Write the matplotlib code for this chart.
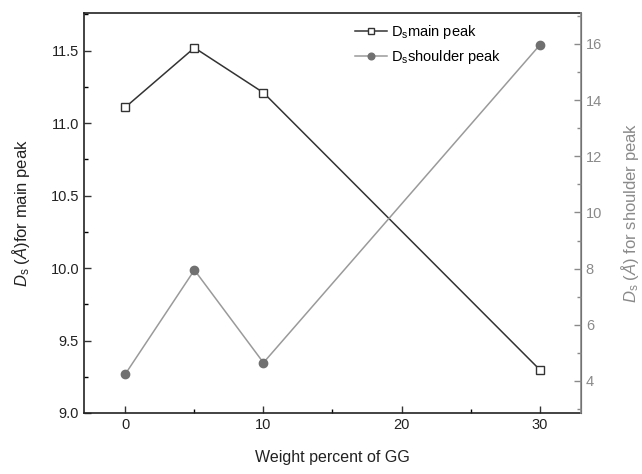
import matplotlib
matplotlib.use("Agg")
import matplotlib.pyplot as plt
from matplotlib.ticker import MultipleLocator

plt.rcParams['font.family'] = ['Liberation Sans', 'DejaVu Sans']
plt.rcParams['mathtext.fontset'] = 'custom'
plt.rcParams['mathtext.rm'] = 'Liberation Sans'
plt.rcParams['mathtext.it'] = 'Liberation Sans:italic'

weight = [0, 5, 10, 30]
main_peak = [11.11, 11.52, 11.21, 9.30]
shoulder_peak = [4.25, 7.95, 4.65, 15.95]
x_ticks = [0, 10, 20, 30]

dark = '#333333'
gray = '#8a8a8a'

fig = plt.figure(figsize=(6.42, 4.74), dpi=100)
ax = fig.add_axes([0.1308, 0.1287, 0.7742, 0.8439])
ax2 = ax.twinx()

l1, = ax.plot(weight, main_peak, color=dark, lw=1.1, marker='s', ms=5.5,
              mfc='white', mec=dark, mew=1.0, label=r'D$_{\rm s}$main peak')
l2, = ax2.plot(weight, shoulder_peak, color='#9a9a9a', lw=1.1, marker='o', ms=6,
               mfc='#707070', mec='#707070', label=r'D$_{\rm s}$shoulder peak')

ax.set_xlim(-3, 33)
ax.set_ylim(9.0, 11.76)
ax2.set_ylim(2.86, 17.1)
ax.set_xticks(x_ticks)
ax.xaxis.set_minor_locator(MultipleLocator(5))
ax.yaxis.set_major_locator(MultipleLocator(0.5))
ax.yaxis.set_minor_locator(MultipleLocator(0.25))
ax.yaxis.set_major_formatter(matplotlib.ticker.FormatStrFormatter('%.1f'))
ax2.yaxis.set_major_locator(MultipleLocator(2))
ax2.yaxis.set_minor_locator(MultipleLocator(1))

for a in (ax, ax2):
    a.tick_params(which='major', direction='in', length=5, width=1.0, labelsize=10.5)
    a.tick_params(which='minor', direction='in', length=3, width=1.0)

ax.tick_params(axis='both', colors=dark, labelcolor='#222222')
ax2.tick_params(axis='y', which='both', colors=gray, labelcolor=gray)
ax2.spines['right'].set_color(gray)
for s in ['left', 'bottom', 'top']:
    ax.spines[s].set_color('#222222')
    ax.spines[s].set_linewidth(1.2)
ax2.spines['right'].set_linewidth(1.2)
ax2.spines['left'].set_visible(False)
ax2.spines['top'].set_visible(False)
ax2.spines['bottom'].set_visible(False)

ax.set_xlabel('Weight percent of GG', fontsize=11.5, color='#222222', labelpad=13)
ax.set_ylabel(r'$D_{\rm s}$ $(\AA)$for main peak', fontsize=12, color='#222222', labelpad=13)
ax2.set_ylabel(r'$D_{\rm s}$ $(\AA)$ for shoulder peak', fontsize=12, color=gray,
               rotation=90, labelpad=12)

leg = ax.legend(handles=[l1, l2], loc='upper right', bbox_to_anchor=(0.86, 1.0),
                frameon=False, fontsize=10.5, handlelength=2.2, handletextpad=0.3,
                labelspacing=0.45, borderaxespad=0.3, markerscale=0.8)

fig.savefig('out.png', dpi=100)
